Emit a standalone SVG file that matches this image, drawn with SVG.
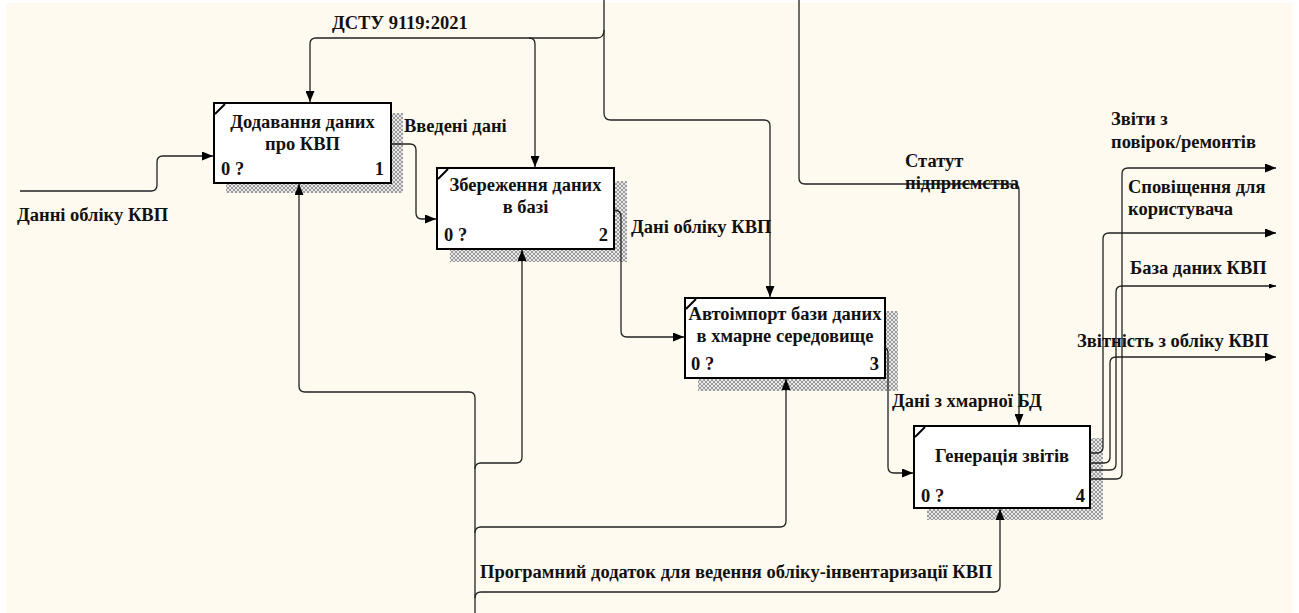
<svg xmlns="http://www.w3.org/2000/svg" width="1299" height="613" viewBox="0 0 1299 613">
  <style>
    .lbl { font-family: "Liberation Serif", "Times New Roman", serif; font-weight: bold; font-size: 18.5px; fill: #111; }
    .box { fill: #fff; stroke: #000; stroke-width: 2; }
    .shadow { fill: url(#hatch); }
    .notch { stroke: #000; stroke-width: 2; }
    .mid { text-anchor: middle; }
    .end { text-anchor: end; }
    .wire { fill: none; stroke: #222; stroke-width: 1.3; }
  </style>
  <defs>
    <pattern id="hatch" width="4" height="4" patternUnits="userSpaceOnUse">
      <rect width="4" height="4" fill="#e8e8e8"/>
      <path d="M0,0 L4,4 M4,0 L0,4" stroke="#7a7a7a" stroke-width="0.7"/>
    </pattern>
    <marker id="arrow" markerUnits="userSpaceOnUse" markerWidth="11" markerHeight="9" refX="11" refY="4.5" orient="auto">
      <path d="M0,0 L11,4.5 L0,9 z" fill="#000"/>
    </marker>
    <marker id="arrowSmall" markerUnits="userSpaceOnUse" markerWidth="7" markerHeight="5" refX="7" refY="2.5" orient="auto">
      <path d="M0,0 L7,2.5 L0,5 z" fill="#000"/>
    </marker>
  </defs>

  <rect x="0" y="0" width="1299" height="613" fill="#fff"/>
  <rect x="6" y="3" width="1287" height="610" fill="#FFFAF0"/>

  <!-- activity boxes -->
  <g id="node-1">
    <rect class="shadow" x="226" y="113" width="177" height="80"/>
    <rect class="box" x="214" y="103" width="177" height="80"/>
    <line class="notch" x1="215" y1="114" x2="225" y2="104"/>
    <text class="lbl mid" x="302.5" y="128">Додавання даних</text>
    <text class="lbl mid" x="302.5" y="150">про КВП</text>
    <text class="lbl" x="221" y="175">0 ?</text>
    <text class="lbl end" x="384" y="175">1</text>
  </g>

  <g id="node-2">
    <rect class="shadow" x="450" y="181" width="177" height="81"/>
    <rect class="box" x="437" y="168" width="177" height="81"/>
    <line class="notch" x1="438" y1="179" x2="448" y2="169"/>
    <text class="lbl mid" x="525.5" y="191">Збереження даних</text>
    <text class="lbl mid" x="525.5" y="213">в базі</text>
    <text class="lbl" x="444" y="241">0 ?</text>
    <text class="lbl end" x="608" y="241">2</text>
  </g>

  <g id="node-3">
    <rect class="shadow" x="698" y="311" width="200" height="80"/>
    <rect class="box" x="685" y="298" width="200" height="80"/>
    <line class="notch" x1="686" y1="309" x2="696" y2="299"/>
    <text class="lbl mid" x="785" y="320">Автоімпорт бази даних</text>
    <text class="lbl mid" x="785" y="342">в хмарне середовище</text>
    <text class="lbl" x="691" y="370">0 ?</text>
    <text class="lbl end" x="879" y="370">3</text>
  </g>

  <g id="node-4">
    <rect class="shadow" x="927" y="438" width="176" height="82"/>
    <rect class="box" x="914" y="426" width="176" height="82"/>
    <line class="notch" x1="915" y1="437" x2="925" y2="427"/>
    <text class="lbl mid" x="1002" y="462">Генерація звітів</text>
    <text class="lbl" x="921" y="502">0 ?</text>
    <text class="lbl end" x="1085" y="502">4</text>
  </g>

  <!-- arrows between activities and the boundary -->
  <g id="connectors">
    <!-- input -->
    <path class="wire" marker-end="url(#arrow)" d="M20 191 H151 Q157 191 157 185 V162 Q157 156 163 156 H213"/>
    <!-- control ДСТУ 9119:2021 -->
    <path class="wire" marker-end="url(#arrow)" d="M604 0 V113 Q604 120 611 120 H764 Q770 120 770 126 V297"/>
    <path class="wire" marker-end="url(#arrow)" d="M604 30 Q604 38 597 38 H316 Q310 38 310 44 V102"/>
    <path class="wire" marker-end="url(#arrow)" d="M529 38 Q535 38 535 44 V167"/>
    <!-- control Статут підприємства -->
    <path class="wire" marker-end="url(#arrow)" d="M799 0 V178 Q799 184 805 184 H1013 Q1019 184 1019 190 V425"/>
    <!-- 1 -> 2 -->
    <path class="wire" marker-end="url(#arrow)" d="M391 144 H410 Q416 144 416 150 V213 Q416 219 422 219 H436"/>
    <!-- 2 -> 3 -->
    <path class="wire" marker-end="url(#arrow)" d="M614 210 Q621 210 621 217 V331 Q621 337 627 337 H684"/>
    <!-- 3 -> 4 -->
    <path class="wire" marker-end="url(#arrow)" d="M885 348 Q888 348 888 354 V467 Q888 473 894 473 H913"/>
    <!-- mechanism -->
    <path class="wire" marker-end="url(#arrow)" d="M475 613 V398 Q475 392 469 392 H305 Q299 392 299 386 V184"/>
    <path class="wire" marker-end="url(#arrow)" d="M475 469 Q475 463 481 463 H516 Q522 463 522 457 V250"/>
    <path class="wire" marker-end="url(#arrow)" d="M475 533 Q475 527 481 527 H780 Q786 527 786 521 V379"/>
    <path class="wire" marker-end="url(#arrow)" d="M475 598 Q475 592 481 592 H994 Q1000 592 1000 586 V509"/>
    <!-- outputs -->
    <path class="wire" marker-end="url(#arrow)" d="M1090 453 H1097 Q1103 453 1103 447 V239 Q1103 233 1109 233 H1276"/>
    <path class="wire" marker-end="url(#arrow)" d="M1090 463 H1104 Q1110 463 1110 457 V363 Q1110 357 1116 357 H1276"/>
    <path class="wire" marker-end="url(#arrowSmall)" d="M1090 470 H1110 Q1116 470 1116 464 V292 Q1116 286 1122 286 H1276"/>
    <path class="wire" marker-end="url(#arrow)" d="M1090 479 H1116 Q1122 479 1122 473 V174 Q1122 168 1128 168 H1276"/>
  </g>

  <!-- arrow labels -->
  <g id="labels">
    <text class="lbl" x="332" y="29">ДСТУ 9119:2021</text>
    <text class="lbl" x="17" y="221">Данні обліку КВП</text>
    <text class="lbl" x="404" y="132">Введені дані</text>
    <text class="lbl" x="631" y="233">Дані обліку КВП</text>
    <text class="lbl" x="905" y="167">Статут</text>
    <text class="lbl" x="905" y="189">підприємства</text>
    <text class="lbl" x="892" y="407">Дані з хмарної БД</text>
    <text class="lbl" x="480" y="578">Програмний додаток для ведення обліку-інвентаризації КВП</text>
    <text class="lbl" x="1111" y="125">Звіти з</text>
    <text class="lbl" x="1111" y="148">повірок/ремонтів</text>
    <text class="lbl" x="1128" y="193">Сповіщення для</text>
    <text class="lbl" x="1128" y="215">користувача</text>
    <text class="lbl" x="1130" y="274">База даних КВП</text>
    <text class="lbl" x="1077" y="347">Звітність з обліку КВП</text>
  </g>
</svg>
